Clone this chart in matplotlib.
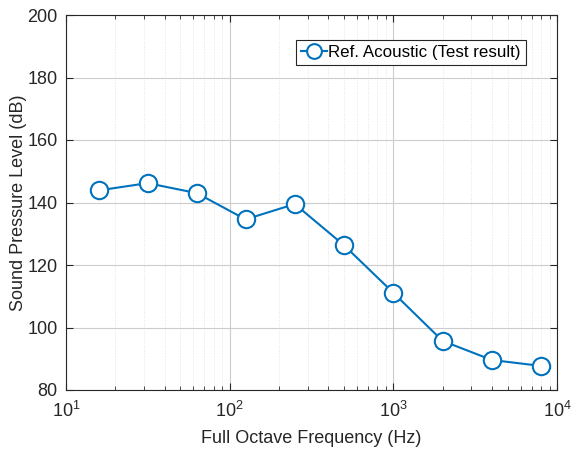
import matplotlib.pyplot as plt
from matplotlib.ticker import LogLocator, NullFormatter

plt.rcParams["font.family"] = ["Liberation Sans", "DejaVu Sans"]

# octave band centres and measured levels
freqs_hz = [16, 31.5, 63, 125, 250, 500, 1000, 2000, 4000, 8000]
spl_db = [143.9, 146.2, 143.0, 134.6, 139.5, 126.3, 111.1, 95.7, 89.6, 87.7]
series_label = "Ref. Acoustic (Test result)"

fig = plt.figure(figsize=(5.71, 4.51), dpi=100)
ax = fig.add_axes([66 / 571, 1 - 390 / 451, (557 - 66) / 571, (390 - 15) / 451])

ax.semilogx(freqs_hz, spl_db, "-o", color="#0072BD", linewidth=1.5,
            markersize=12.5, markerfacecolor="white", markeredgewidth=1.5,
            label=series_label, zorder=3)

ax.set_xlim(10, 1e4)
ax.set_ylim(80, 200)
ax.set_yticks(range(80, 201, 20))
ax.xaxis.set_minor_locator(LogLocator(base=10, subs=range(2, 10), numticks=20))
ax.xaxis.set_minor_formatter(NullFormatter())

ax.grid(True, which="major", color="#cccccc", linewidth=0.8)
ax.grid(True, which="minor", color="#e4e4e4", linestyle=":", linewidth=0.7)
ax.set_axisbelow(True)

ax.tick_params(which="both", direction="in", top=True, right=True,
               labelsize=13, colors="#262626")
ax.tick_params(which="major", length=5)
ax.tick_params(which="minor", length=3)
ax.tick_params(axis="x", which="major", pad=8)
ax.tick_params(axis="y", which="major", pad=6)
for sp in ax.spines.values():
    sp.set_color("#262626")
    sp.set_linewidth(0.8)

ax.set_xlabel("Full Octave Frequency (Hz)", fontsize=13, color="#262626",
              labelpad=6)
ax.set_ylabel("Sound Pressure Level (dB)", fontsize=13, color="#262626",
              labelpad=0)

leg = ax.legend(loc="upper right", bbox_to_anchor=(0.9365, 0.933), fontsize=12.2,
                fancybox=False, framealpha=1, edgecolor="#262626",
                handlelength=1.5, handletextpad=0.1, borderpad=0.3,
                borderaxespad=0, markerscale=0.85)
leg.get_frame().set_linewidth(0.8)

fig.savefig("out.png", dpi=100)
